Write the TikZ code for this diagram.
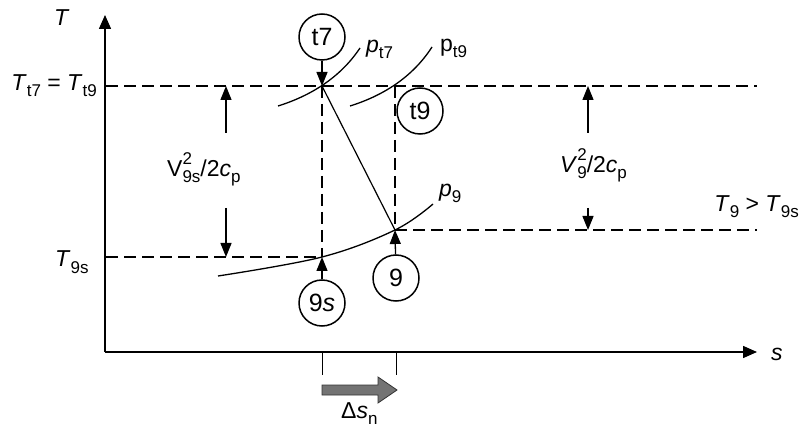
\documentclass[tikz,border=0pt]{standalone}
\usepackage{fontspec}
\setmainfont{Liberation Sans}
\usetikzlibrary{arrows.meta}
\newcommand\lo[1]{\raisebox{-6pt}{\fontsize{17}{17}\selectfont\upshape #1}}
\newcommand\hi[1]{\raisebox{12pt}{\fontsize{17}{17}\selectfont\upshape #1}}
\tikzset{
  lbl/.style={inner sep=0pt, anchor=base west, font=\fontsize{23}{26}\selectfont},
  stn/.style={circle, draw, line width=1.5pt, minimum size=46pt, inner sep=0pt, font=\fontsize{25}{26}\selectfont},
  dsh/.style={line width=1.2pt, dash pattern=on 12pt off 6pt},
  arr/.style={line width=1.3pt, -{Triangle[length=14pt,width=11pt]}},
  axis/.style={line width=1.5pt, -{Triangle[length=14pt,width=12pt]}},
  curve/.style={line width=1.3pt},
}
\begin{document}
\begin{tikzpicture}[x=1pt,y=-1pt]
\useasboundingbox (0,0) rectangle (800,430);
% key points
\coordinate (O) at (105,352);
\coordinate (Ytop) at (105,15);
\coordinate (Xend) at (757,352);
\coordinate (A) at (322,86);
\coordinate (B) at (395,230);
\coordinate (S) at (322,257);
\coordinate (Lt) at (106,86);
\coordinate (Rt) at (757,86);
\coordinate (Ls) at (106,257);
\coordinate (R9) at (757,230);
\coordinate (Bt) at (395,86);
% axes
\draw[axis] (O) -- (Ytop);
\draw[axis] (O) -- (Xend);
% dashed lines
\draw[dsh] (Lt) -- (Rt);
\draw[dsh] (Ls) -- (S);
\draw[dsh] (B) -- (R9);
\draw[dsh] (A) -- (S);
\draw[dsh] (Bt) -- (B);
% expansion line
\draw[line width=1.2pt] (A) -- (B);
% isobars
\draw[curve] (278,106) .. controls (310,96) and (340,78) .. (360,48);
\draw[curve] (350,106) .. controls (382,96) and (412,78) .. (432,47);
\draw[curve] plot[smooth, tension=0.6] coordinates {(218,276) (322,257) (395,230) (433,204)};
% station circles
\node[stn] (t7) at (322,37) {t7};
\node[stn] (t9) at (420,111) {t9};
\node[stn] (n9) at (396,278) {9};
\node[stn] (n9s) at (322,303) {9\textit{s}};
\draw[arr] (t7) -- (A);
\draw[arr] (n9) -- (B);
\draw[arr] (n9s) -- (S);
% dimension arrows
\coordinate (L1) at (226,133); \coordinate (L1t) at (226,86);
\coordinate (L2) at (226,208); \coordinate (L2t) at (226,257);
\coordinate (R1) at (588,133); \coordinate (R1t) at (588,86);
\coordinate (R2) at (588,208); \coordinate (R2t) at (588,230);
\draw[arr] (L1) -- (L1t);
\draw[arr] (L2) -- (L2t);
\draw[arr] (R1) -- (R1t);
\draw[arr] (R2) -- (R2t);
% ticks and entropy arrow
\coordinate (k1a) at (322,352); \coordinate (k1b) at (322,375);
\coordinate (k2a) at (396,352); \coordinate (k2b) at (396,375);
\draw[line width=1pt] (k1a) -- (k1b);
\draw[line width=1pt] (k2a) -- (k2b);
\draw[line width=0.8pt, draw=black!80, fill=black!55] (322,385) -- (378,385) -- (378,377) -- (397,390) -- (378,403) -- (378,395) -- (322,395) -- cycle;
% labels
\node[lbl] (lT) at (54,26) {\textit{T}};
\node[lbl] (ls) at (771,360) {\textit{s}};
\node[lbl, anchor=base east] (lTt) at (97,91) {\textit{T}\lo{t7} = \textit{T}\lo{t9}};
\node[lbl] (lT9s) at (55,267) {\textit{T}\lo{9s}};
\node[lbl] (lV9s) at (167,177) {V\rlap{\hi{2}}\lo{9s}/2\textit{c}\lo{p}};
\node[lbl] (lV9) at (560,173) {\textit{V}\rlap{\hi{2}}\lo{9}/2\textit{c}\lo{p}};
\node[lbl] (lpt7) at (366,53) {\textit{p}\lo{t7}};
\node[lbl] (lpt9) at (440,52) {p\lo{t9}};
\node[lbl] (lp9) at (439,197) {\textit{p}\lo{9}};
\node[lbl, anchor=base east] (lT9) at (799,212) {\textit{T}\lo{9} > \textit{T}\lo{9s}};
\node[lbl] (lds) at (341,418) {Δ\textit{s}\lo{n}};
\end{tikzpicture}
\end{document}
